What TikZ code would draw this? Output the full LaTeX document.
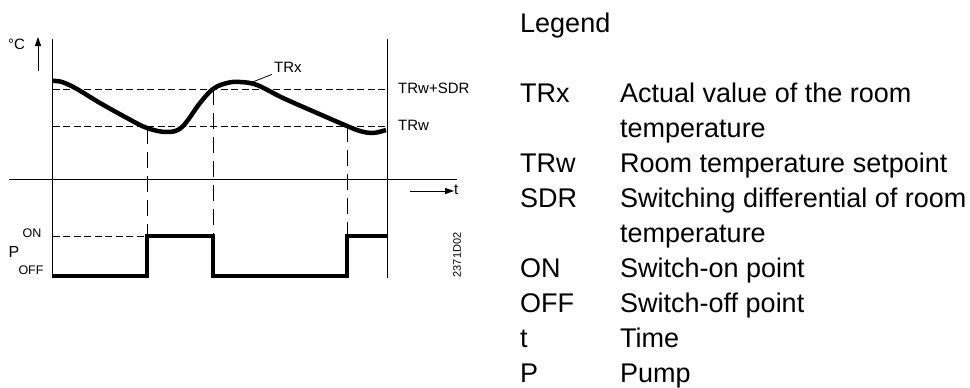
\documentclass[tikz,border=0pt]{standalone}
\usepackage{fontspec}
\setmainfont{Liberation Sans}
\usetikzlibrary{arrows.meta,calc}
\tikzset{
  lbl/.style={inner sep=0pt,font=\fontsize{15}{15}\selectfont},
  legtxt/.style={inner sep=0pt,anchor=base west,font=\fontsize{27}{27}\selectfont},
  shortdash/.style={dash pattern=on 7pt off 3.5pt,line width=1pt},
  longdash/.style={dash pattern=on 16pt off 8pt,line width=1pt},
  curve/.style={line width=4.5pt,line join=round},
  pump/.style={line width=3.5pt,line join=miter}
}
\begin{document}
\begin{tikzpicture}[x=1pt,y=-1pt]
\useasboundingbox (0,0) rectangle (970,388);
% axes
\draw[line width=1pt](52.5,39)--(52.5,278);
\draw[line width=1pt](387,39)--(387,278);
\draw[line width=1pt](9,179)--(457,179);
\draw[line width=1pt,-{Triangle[length=9pt,width=6pt]}](38,71)--(38,37);
\draw[line width=1pt,-{Triangle[length=9pt,width=6pt]}](410,191)--(454,191);
\node[lbl,anchor=west](deg)at(8,44){°C};
\node[lbl,anchor=west](tlbl)at(454,190){t};
% limits
\draw[shortdash](52.5,89)--(387,89);
\draw[shortdash](52.5,126)--(387,126);
\node[lbl,anchor=west](sdr)at(398,88){TRw+SDR};
\node[lbl,anchor=west](trw)at(398,125){TRw};
% switching points
\draw[longdash](147,128)--(147,278);
\draw[longdash](213,89)--(213,278);
\draw[longdash](347,126)--(347,278);
% room temperature
\draw[curve]plot[smooth,tension=0.6]coordinates{(52.5,81)(62,82)(77,89)(100,103)(127,118)(147,128)(167,132)(182,127)(200,103)(213,89)(227,83)(240,82)(257,85)(283,98)(317,113)(347,126)(360,131)(373,133)(386,130)};
\node[lbl,anchor=west](trx)at(274,67){TRx};
\coordinate(trxpt)at(250,83);
\draw[line width=0.8pt](trx.south west)++(-2,2)--(trxpt);
% pump
\draw[shortdash](52.5,236)--(147,236);
\draw[pump](52.5,276)--(147,276)--(147,236)--(213,236)--(213,276)--(347,276)--(347,236)--(387,236);
\node[inner sep=0pt,font=\fontsize{12.5}{12.5}\selectfont](on)at(32,233){ON};
\node[inner sep=0pt,font=\fontsize{16}{16}\selectfont](p)at(14,252){P};
\node[inner sep=0pt,font=\fontsize{12.5}{12.5}\selectfont](off)at(31,270){OFF};
\node[inner sep=0pt,rotate=90,font=\fontsize{11}{11}\selectfont](code)at(457,255){2371D02};
% legend
\node[legtxt](leg)at(520,32){Legend};
\node[legtxt](a1)at(520,102){TRx};
\node[legtxt](b1)at(620,102){Actual value of the room};
\node[legtxt](b1a)at(620,137){temperature};
\node[legtxt](a2)at(520,172){TRw};
\node[legtxt](b2)at(620,172){Room temperature setpoint};
\node[legtxt](a3)at(520,207){SDR};
\node[legtxt](b3)at(620,207){Switching differential of room};
\node[legtxt](b3a)at(620,242){temperature};
\node[legtxt](a4)at(520,277){ON};
\node[legtxt](b4)at(620,277){Switch-on point};
\node[legtxt](a5)at(520,312){OFF};
\node[legtxt](b5)at(620,312){Switch-off point};
\node[legtxt](a6)at(520,347){t};
\node[legtxt](b6)at(620,347){Time};
\node[legtxt](a7)at(520,382){P};
\node[legtxt](b7)at(620,382){Pump};
\end{tikzpicture}
\end{document}
